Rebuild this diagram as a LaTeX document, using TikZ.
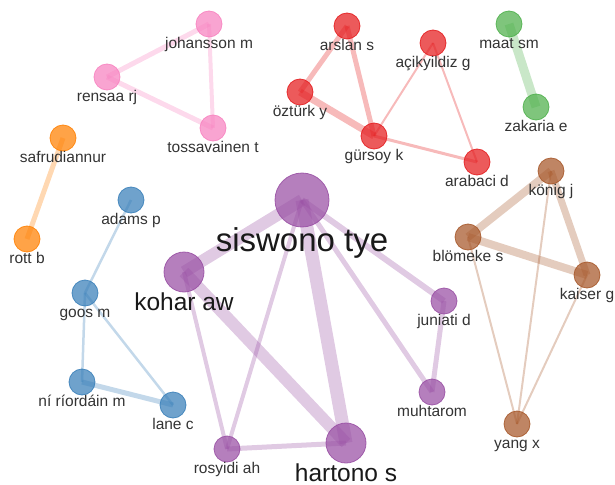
\documentclass[tikz,border=0pt]{standalone}
\usepackage{fontspec}
\setmainfont{Liberation Sans}
\usetikzlibrary{backgrounds}

\definecolor{pinkc}{HTML}{F781BF}
\definecolor{orangec}{HTML}{FF7F00}
\definecolor{bluec}{HTML}{377EB8}
\definecolor{redc}{HTML}{E41A1C}
\definecolor{greenc}{HTML}{4DAF4A}
\definecolor{purplec}{HTML}{984EA3}
\definecolor{brownc}{HTML}{A65628}
\definecolor{namegray}{HTML}{333333}

\begin{document}
\begin{tikzpicture}[x=1pt,y=-1pt,
    dot/.style={circle,inner sep=0pt,fill=#1,fill opacity=.72,draw=#1,draw opacity=.85,line width=.8pt},
    small/.style={minimum size=26pt,label distance=1.8pt},
    big/.style={minimum size=40pt,label distance=-3.1pt},
    huge/.style={minimum size=54pt,label distance=-2.8pt},
    sname/.style={inner sep=0pt,text opacity=1,text=namegray,font=\fontsize{15.5}{16}\selectfont,text height=11.2pt,text depth=3.3pt},
    bname/.style={inner sep=0pt,text opacity=1,text=black!90,font=\fontsize{24.5}{26}\selectfont,text height=17.6pt,text depth=0.5pt},
    hname/.style={inner sep=0pt,text opacity=1,text=black!90,font=\fontsize{33}{35}\selectfont,text height=23.8pt,text depth=6.9pt},
    link/.style={line width=#1pt,draw opacity=.3}]
    \useasboundingbox (0,0) rectangle (615,484);

    % pink group
    \node[dot=pinkc,small,label={[sname]below:johansson m}] (johansson) at (209,24) {};
    \node[dot=pinkc,small,label={[sname]below:rensaa rj}] (rensaa) at (107,77) {};
    \node[dot=pinkc,small,label={[sname]below:tossavainen t}] (tossavainen) at (213,128) {};
    % orange group
    \node[dot=orangec,small,label={[sname]below:safrudiannur}] (safrudiannur) at (63,138) {};
    \node[dot=orangec,small,label={[sname]below:rott b}] (rott) at (27,239) {};
    % blue group
    \node[dot=bluec,small,label={[sname]below:adams p}] (adams) at (131,200) {};
    \node[dot=bluec,small,label={[sname]below:goos m}] (goos) at (85,293) {};
    \node[dot=bluec,small,label={[sname]below:ní ríordáin m}] (riordain) at (82,382) {};
    \node[dot=bluec,small,label={[sname]below:lane c}] (lane) at (173,405) {};
    % red group
    \node[dot=redc,small,label={[sname]below:arslan s}] (arslan) at (347,26) {};
    \node[dot=redc,small,label={[sname]below:açikyildiz g}] (acikyildiz) at (433,43) {};
    \node[dot=redc,small,label={[sname]below:öztürk y}] (ozturk) at (300,92) {};
    \node[dot=redc,small,label={[sname]below:gürsoy k}] (gursoy) at (374,136) {};
    \node[dot=redc,small,label={[sname]below:arabaci d}] (arabaci) at (477,162) {};
    % green group
    \node[dot=greenc,small,label={[sname]below:maat sm}] (maat) at (509,24) {};
    \node[dot=greenc,small,label={[sname]below:zakaria e}] (zakaria) at (536,107) {};
    % purple group
    \node[dot=purplec,huge,label={[hname]below:siswono tye}] (siswono) at (302,200) {};
    \node[dot=purplec,big,label={[bname]below:kohar aw}] (kohar) at (184,272) {};
    \node[dot=purplec,big,label={[bname]below:hartono s}] (hartono) at (346,443) {};
    \node[dot=purplec,small,label={[sname]below:rosyidi ah}] (rosyidi) at (227,449) {};
    \node[dot=purplec,small,label={[sname]below:juniati d}] (juniati) at (444,301) {};
    \node[dot=purplec,small,label={[sname]below:muhtarom}] (muhtarom) at (432,392) {};
    % brown group
    \node[dot=brownc,small,label={[sname]below:könig j}] (konig) at (551,171) {};
    \node[dot=brownc,small,label={[sname]below:blömeke s}] (blomeke) at (468,237) {};
    \node[dot=brownc,small,label={[sname]below:kaiser g}] (kaiser) at (587,275) {};
    \node[dot=brownc,small,label={[sname]below:yang x}] (yang) at (517,424) {};

    \begin{pgfonlayer}{background}
        \draw[link=5,pinkc](johansson.center)--(rensaa.center);
        \draw[link=4,pinkc](johansson.center)--(tossavainen.center);
        \draw[link=5,pinkc](rensaa.center)--(tossavainen.center);

        \draw[link=5,orangec](safrudiannur.center)--(rott.center);

        \draw[link=2.5,bluec](adams.center)--(goos.center);
        \draw[link=2.5,bluec](goos.center)--(riordain.center);
        \draw[link=2.5,bluec](goos.center)--(lane.center);
        \draw[link=5,bluec](riordain.center)--(lane.center);

        \draw[link=5,redc](arslan.center)--(ozturk.center);
        \draw[link=5,redc](arslan.center)--(gursoy.center);
        \draw[link=7,redc](ozturk.center)--(gursoy.center);
        \draw[link=2,redc](gursoy.center)--(acikyildiz.center);
        \draw[link=2,redc](acikyildiz.center)--(arabaci.center);
        \draw[link=3,redc](gursoy.center)--(arabaci.center);

        \draw[link=9,greenc](maat.center)--(zakaria.center);

        \draw[link=12,purplec](siswono.center)--(kohar.center);
        \draw[link=12,purplec](kohar.center)--(hartono.center);
        \draw[link=13,purplec](siswono.center)--(hartono.center);
        \draw[link=4,purplec](siswono.center)--(rosyidi.center);
        \draw[link=4,purplec](kohar.center)--(rosyidi.center);
        \draw[link=5,purplec](rosyidi.center)--(hartono.center);
        \draw[link=6,purplec](siswono.center)--(juniati.center);
        \draw[link=5,purplec](siswono.center)--(muhtarom.center);
        \draw[link=5,purplec](juniati.center)--(muhtarom.center);

        \draw[link=8,brownc](konig.center)--(blomeke.center);
        \draw[link=8,brownc](blomeke.center)--(kaiser.center);
        \draw[link=7,brownc](konig.center)--(kaiser.center);
        \draw[link=2,brownc](blomeke.center)--(yang.center);
        \draw[link=2,brownc](konig.center)--(yang.center);
        \draw[link=2,brownc](kaiser.center)--(yang.center);
    \end{pgfonlayer}
\end{tikzpicture}
\end{document}
